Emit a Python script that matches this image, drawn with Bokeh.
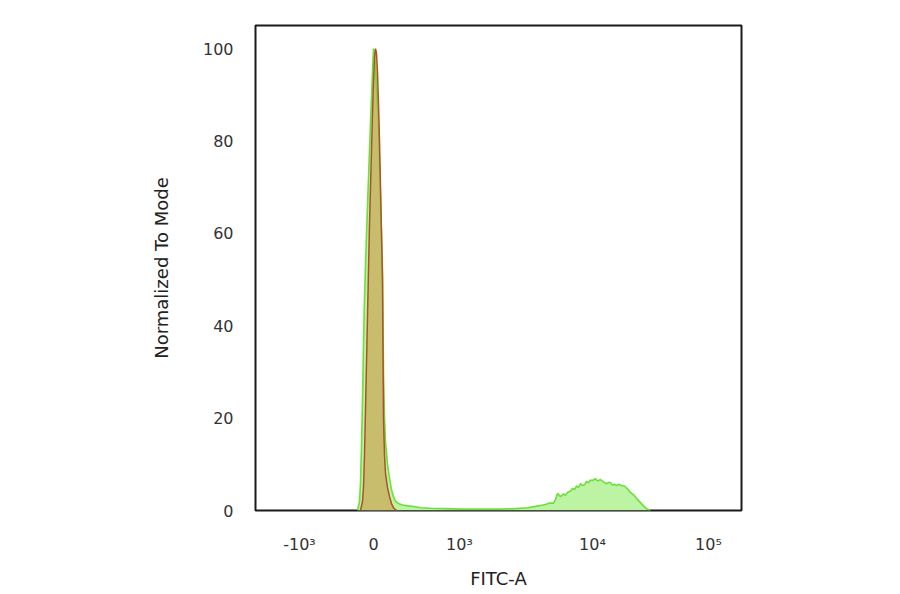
from bokeh.plotting import figure
from bokeh.models import FixedTicker, Range1d
from bokeh.embed import file_html
from bokeh.resources import INLINE

# Display-scale channel positions (biexponential display units, 0..486)
tick_positions = [44, 118, 204, 337, 453]
tick_labels = ["-10³", "0", "10³", "10⁴", "10⁵"]
y_ticks = [0, 20, 40, 60, 80, 100]

# Isotype control histogram (red)
iso_x = [105, 107, 108, 109, 110, 111, 112, 113, 114, 115, 116, 117, 118, 119, 120,
         121, 122, 123, 124, 125, 126, 127, 127.5, 128, 129, 130, 132, 134, 136, 138, 141]
iso_y = [0, 2, 5, 12, 22, 32, 42, 52, 62, 70, 78, 86, 93, 98, 100,
         99, 95, 88, 80, 70, 60, 50, 35, 20, 12, 8, 5, 3, 1.5, 0.6, 0]

# Sample histogram (green)
smp_x = [102, 104, 105, 106, 107, 108, 109, 111, 113, 115, 117, 118, 119, 120, 121,
         123, 125, 127, 128, 129, 130, 132, 134, 136, 138, 140, 143, 147, 153, 160,
         165, 175, 190, 205, 225, 245, 260, 272, 280, 285, 290, 294, 298, 300, 302,
         305, 308, 310, 312, 315, 317, 319, 321, 323, 325, 327, 329, 331, 333, 335,
         337, 340, 342, 345, 348, 351, 353, 355, 357, 359, 361, 363, 366, 369, 372,
         375, 379, 382, 385, 388, 391, 395]
smp_y = [0, 2, 6, 14, 24, 36, 46, 60, 72, 84, 95, 100, 99, 96, 92,
         84, 68, 52, 30, 20, 15, 10, 7, 4.5, 3, 2, 1.5, 1.2, 1.0, 0.8,
         0.6, 0.5, 0.4, 0.3, 0.3, 0.3, 0.4, 0.6, 0.9, 1.1, 1.3, 1.6, 1.6, 2.4, 3.7,
         3.0, 3.6, 3.3, 3.9, 4.2, 4.8, 4.5, 5.3, 5.0, 5.8, 5.4, 5.6, 6.3, 6.0, 6.6,
         6.5, 6.9, 6.4, 6.7, 6.2, 5.8, 6.1, 6.0, 5.5, 5.7, 5.4, 5.7, 5.4, 5.3, 4.7,
         3.9, 3.2, 2.4, 1.7, 1.0, 0.4, 0]

p = figure(frame_width=486, frame_height=485,
           x_range=Range1d(0, 486), y_range=Range1d(0, 105),
           output_backend="svg", toolbar_location=None,
           min_border_left=255, min_border_top=25, min_border_right=159,
           min_border_bottom=84, background_fill_color="white",
           border_fill_color="white")

p.varea(x=smp_x, y1=0, y2=smp_y, fill_color="#bdf4a3", fill_alpha=1.0)
p.varea(x=iso_x, y1=0, y2=iso_y, fill_color="#d28537", fill_alpha=0.5)
p.line(smp_x, smp_y, line_color="#5fdc2c", line_width=1.6, line_alpha=0.9)
p.line(iso_x, iso_y, line_color="#b0502a", line_width=1.5)

p.outline_line_color = "#1a1a1a"
p.outline_line_width = 2
p.grid.visible = False

for ax in (p.xaxis[0], p.yaxis[0]):
    ax.axis_line_color = None
    ax.major_tick_line_color = None
    ax.minor_tick_line_color = None
    ax.major_tick_in = 0
    ax.major_tick_out = 0
    ax.major_label_text_font = "DejaVu Sans"
    ax.major_label_text_font_size = "16px"
    ax.major_label_text_color = "#333333"
    ax.axis_label_text_font = "DejaVu Sans"
    ax.axis_label_text_font_size = "18px"
    ax.axis_label_text_font_style = "normal"
    ax.axis_label_text_color = "#222222"

p.xaxis.ticker = FixedTicker(ticks=tick_positions)
p.xaxis.major_label_overrides = {t: l for t, l in zip(tick_positions, tick_labels)}
p.xaxis.major_label_standoff = 24
p.xaxis.axis_label = "FITC-A"
p.xaxis.axis_label_standoff = 11

p.yaxis.ticker = FixedTicker(ticks=y_ticks)
p.yaxis.major_label_standoff = 22
p.yaxis.axis_label = "Normalized To Mode"
p.yaxis.axis_label_standoff = 28

open("out.html", "w").write(file_html(p, INLINE))
